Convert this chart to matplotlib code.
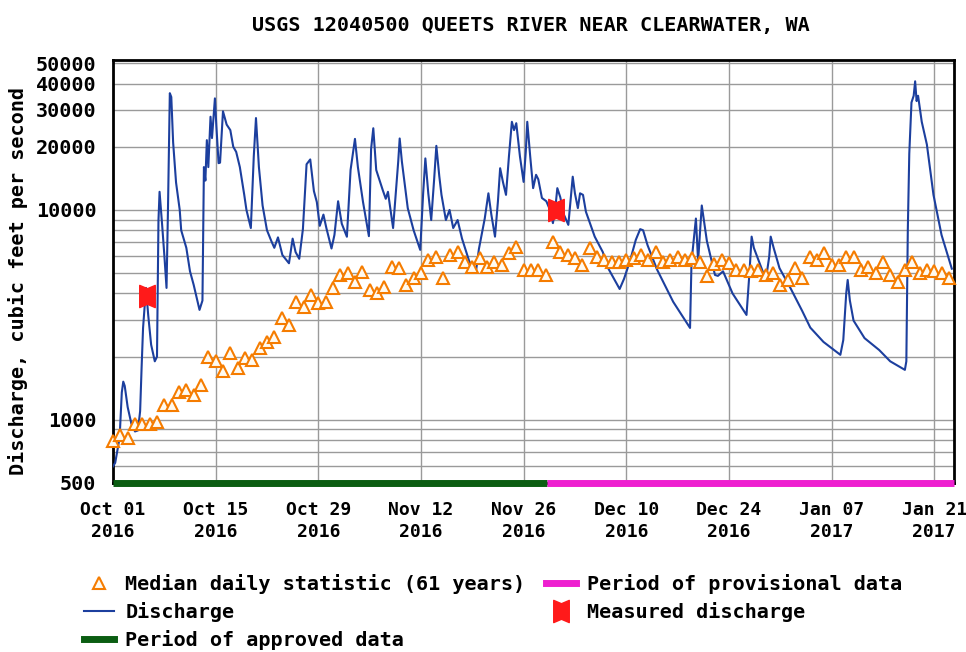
import matplotlib
matplotlib.use("Agg")
import matplotlib.pyplot as plt
from matplotlib.path import Path
from matplotlib.lines import Line2D
from matplotlib.ticker import FixedLocator, NullFormatter

# ---------------- data ----------------
title = "USGS 12040500 QUEETS RIVER NEAR CLEARWATER, WA"
ylabel = "Discharge, cubic feet per second"

x_tick_days = [0, 14, 28, 42, 56, 70, 84, 98, 112]
x_tick_labels = ["Oct 01\n2016", "Oct 15\n2016", "Oct 29\n2016", "Nov 12\n2016",
                 "Nov 26\n2016", "Dec 10\n2016", "Dec 24\n2016", "Jan 07\n2017",
                 "Jan 21\n2017"]
y_tick_values = [500, 1000, 10000, 20000, 30000, 40000, 50000]
y_tick_labels = ["500", "1000", "10000", "20000", "30000", "40000", "50000"]

# discharge (days since Oct 01 2016, cubic feet per second)
q_day = [0.0, 0.3, 0.9, 1.2, 1.4, 1.6, 2.0, 2.5, 3.0, 3.4, 3.7, 3.9, 4.1, 4.3, 4.5,
         4.8, 5.2, 5.7, 6.0, 6.2, 6.35, 6.6, 6.7, 7.0, 7.3, 7.5, 7.75, 7.95, 8.2,
         8.6, 9.1, 9.3, 10.0, 10.5, 11.0, 11.8, 12.2, 12.4, 12.6, 12.8, 13.0, 13.3,
         13.5, 13.9, 14.1, 14.4, 14.6, 15.0, 15.5, 16.0, 16.4, 16.8, 17.3, 17.9,
         18.2, 18.8, 19.2, 19.5, 19.9, 20.4, 21.0, 21.6, 22.0, 22.5, 23.1, 23.6,
         24.0, 24.5, 24.9, 25.4, 25.9, 26.4, 26.9, 27.4, 27.8, 28.2, 28.7, 29.1,
         29.8, 30.2, 30.7, 31.2, 31.9, 32.4, 33.0, 33.4, 34.1, 34.9, 35.2, 35.5,
         35.9, 36.8, 37.2, 37.5, 38.2, 38.9, 39.1, 39.4, 40.2, 41.0, 41.9, 42.3,
         42.6, 43.0, 43.4, 43.8, 44.1, 44.5, 44.8, 45.4, 45.9, 46.4, 47.0, 47.6,
         48.6, 49.5, 49.9, 50.7, 51.2, 51.6, 52.1, 52.5, 52.8, 53.2, 53.6, 54.0,
         54.4, 54.7, 55.0, 55.5, 56.0, 56.3, 56.5, 56.9, 57.3, 57.7, 58.0, 58.5,
         59.1, 59.6, 60.0, 60.3, 60.6, 61.0, 61.5, 62.1, 62.4, 62.7, 63.0, 63.4,
         63.7, 64.1, 64.5, 65.7, 66.8, 67.5, 69.1, 69.7, 70.5, 71.3, 71.9, 72.3,
         72.9, 74.2, 76.4, 78.7, 78.9, 79.5, 79.8, 80.3, 81.0, 82.1, 82.5, 83.2,
         84.5, 86.4, 86.8, 87.1, 87.4, 88.0, 88.7, 89.1, 89.5, 89.7, 90.1, 90.9,
         92.4, 94.0, 95.1, 96.9, 99.2, 99.6, 100.0, 100.2, 100.5, 101.0, 102.5,
         104.5, 106.0, 108.0, 108.2, 108.4, 108.6, 108.9, 109.2, 109.4, 109.6,
         109.8, 110.3, 111.0, 111.9, 113.0, 114.4]
q_cfs = [600, 624, 820, 1350, 1520, 1450, 1150, 960, 880, 890, 1100, 1770, 2740, 3400, 4250,
         3160, 2280, 1900, 2000, 8900, 12200, 9500, 8500, 6100, 4250, 10200, 36000, 34500, 21000,
         13500, 10000, 8000, 6600, 5100, 4400, 3340, 3700, 16000, 13800, 21500, 16000, 27800,
         22000, 34000, 25000, 16700, 16800, 29500, 25500, 24000, 20000, 18900, 16000, 11800,
         10000, 8200, 18000, 27400, 16000, 10500, 8000, 7100, 6600, 7400, 6100, 5800,
         5570, 7300, 6300, 5850, 8100, 16500, 17400, 12300, 10900, 8400, 9500, 8200,
         6550, 7600, 11000, 8600, 7450, 15500, 21800, 16000, 10900, 7500, 19500, 24500,
         15500, 12400, 11300, 12200, 8200, 17000, 21900, 17000, 10200, 8000, 6450, 12000,
         17600, 12000, 8950, 14000, 20200, 14500, 11800, 8950, 10000, 8200, 8950, 7300,
         5670, 5080, 6500, 9100, 12000, 9500, 7460, 11000, 15800, 13500, 11800, 18000,
         26300, 24000, 25900, 18000, 13600, 19000, 26300, 18000, 12700, 14700, 14000, 11400,
         11000, 10000, 8650, 10000, 12700, 11500, 9500, 8490, 11000, 14400, 12000, 10200,
         12000, 11800, 9800, 7460, 6300, 5300, 4200, 4700, 5700, 7200, 8100, 8000,
         6800, 5200, 3650, 2740, 5650, 9100, 5700, 10500, 7100, 4900, 4850, 5100,
         4000, 3160, 5000, 7460, 6600, 5800, 5000, 4800, 6000, 7460, 6600, 5280,
         4240, 3300, 2750, 2350, 2040, 2400, 4000, 4640, 3700, 2970, 2450,
         2150, 1900, 1730, 1900, 8000, 18500, 32500, 35000, 41000, 33000,
         35000, 26300, 20500, 11800, 7600, 5250]

# median daily statistic (61 years), one value per day from Oct 01 2016
median_cfs = [790, 850, 820, 960, 950, 950, 980, 1180, 1180, 1360,
              1390, 1320, 1470, 2000, 1900, 1700, 2080, 1760, 1970, 1930,
              2200, 2360, 2490, 3050, 2830, 3660, 3460, 3940, 3590, 3660,
              4240, 4900, 5000, 4560, 5080, 4160, 4010, 4310, 5370, 5280,
              4400, 4730, 5000, 5780, 5990, 4730, 6100, 6330, 5670, 5370,
              5890, 5370, 5670, 5460, 6220, 6690, 5180, 5180, 5180, 4900,
              7060, 6330, 6100, 5890, 5460, 6570, 5990, 5780, 5670, 5670,
              5780, 5890, 6100, 5780, 6330, 5670, 5780, 5990, 5780, 5890,
              5670, 4820, 5500, 5780, 5560, 5180, 5180, 5090, 5180, 4900,
              5000, 4400, 4650, 5280, 4730, 5990, 5780, 6220, 5460, 5460,
              5990, 5990, 5180, 5370, 5000, 5670, 4900, 4560, 5180, 5670,
              5000, 5180, 5090, 5000, 4730]
median_day = list(range(len(median_cfs)))

# measured discharge
meas_day = [4.7, 60.4]
meas_cfs = [3870, 10000]

# data approval periods (days)
approved_span = [0, 59.2]
provisional_span = [59.2, 114.7]

# ---------------- style ----------------
BLUE = "#1c3f9e"
ORANGE = "#f57c00"
GREEN = "#0b5d12"
PINK = "#ee1fd0"
RED = "#ff1a1a"
GRID = "#9a9a9a"
FONT = dict(family="DejaVu Sans Mono", weight="bold", size=14.5)

plt.rcParams["font.family"] = ["DejaVu Sans Mono"]
plt.rcParams["font.weight"] = "bold"
plt.rcParams["font.size"] = 14.5

fig = plt.figure(figsize=(9.66, 6.52), dpi=100)
ax = fig.add_axes([113 / 966, 1 - 483 / 652, (954 - 113) / 966, (483 - 60) / 652])

ax.set_yscale("log")
ax.set_ylim(500, 51800)
ax.set_xlim(0, 114.7)

# grid
minor_vals = [v * 10 ** e for e in (2, 3, 4) for v in range(1, 10)]
minor_vals = [v for v in minor_vals if 500 < v < 51800 and v not in y_tick_values]
ax.yaxis.set_major_locator(FixedLocator(y_tick_values))
ax.yaxis.set_minor_locator(FixedLocator(minor_vals))
ax.yaxis.set_minor_formatter(NullFormatter())
ax.set_yticklabels(y_tick_labels)
ax.set_xticks(x_tick_days)
ax.set_xticklabels(x_tick_labels, linespacing=1.3, fontsize=13)
ax.grid(True, which="both", axis="y", color=GRID, lw=1.0)
ax.grid(True, which="major", axis="x", color=GRID, lw=1.0)
ax.tick_params(axis="both", which="both", length=0)
ax.tick_params(axis="y", pad=12)
ax.tick_params(axis="x", pad=13)
for s in ax.spines.values():
    s.set_linewidth(2)
    s.set_color("black")

# discharge
ax.plot(q_day, q_cfs, color=BLUE, lw=1.5, zorder=3)

# medians
ax.plot(median_day, median_cfs, ls="none", marker="^", ms=8, mfc="#fffaf0",
        mec=ORANGE, mew=1.5, zorder=4, clip_on=False)

# measured
meas_marker = Path([(-0.7, 1), (0, 0.7), (0.7, 1), (0.7, -1), (0, -0.7),
                    (-0.7, -1), (-0.7, 1)],
                   [Path.MOVETO] + [Path.LINETO] * 5 + [Path.CLOSEPOLY])
ax.plot(meas_day, meas_cfs, ls="none", marker=meas_marker, ms=16, color=RED,
        mec=RED, zorder=5)

# approval status bars
ax.plot(approved_span, [500, 500], color=GREEN, lw=5, solid_capstyle="butt",
        clip_on=False, zorder=6)
ax.plot(provisional_span, [500, 500], color=PINK, lw=5, solid_capstyle="butt",
        clip_on=False, zorder=6)

# titles
fig.text(531 / 966, 1 - 25 / 652, title, ha="center", va="center", **FONT)
fig.text(18 / 966, 1 - 281 / 652, ylabel, ha="center", va="center", rotation=90, **FONT)

# legend
handles = [
    Line2D([], [], ls="none", marker="^", ms=8, mfc="#fffaf0", mec=ORANGE, mew=1.5),
    Line2D([], [], color=BLUE, lw=1.5),
    Line2D([], [], color=GREEN, lw=5),
    Line2D([], [], color=PINK, lw=5),
    Line2D([], [], ls="none", marker=meas_marker, ms=16, color=RED),
]
labels = ["Median daily statistic (61 years)", "Discharge", "Period of approved data",
          "Period of provisional data", "Measured discharge"]
fig.legend(handles, labels, ncol=2, loc="upper left",
           bbox_to_anchor=(84 / 966, 1 - 574 / 652), frameon=False,
           prop=dict(family="DejaVu Sans Mono", weight="bold", size=14.5),
           handlelength=1.5, handletextpad=0.55, columnspacing=1.0,
           labelspacing=0.4, borderpad=0, borderaxespad=0)

fig.savefig("out.png", dpi=100)
